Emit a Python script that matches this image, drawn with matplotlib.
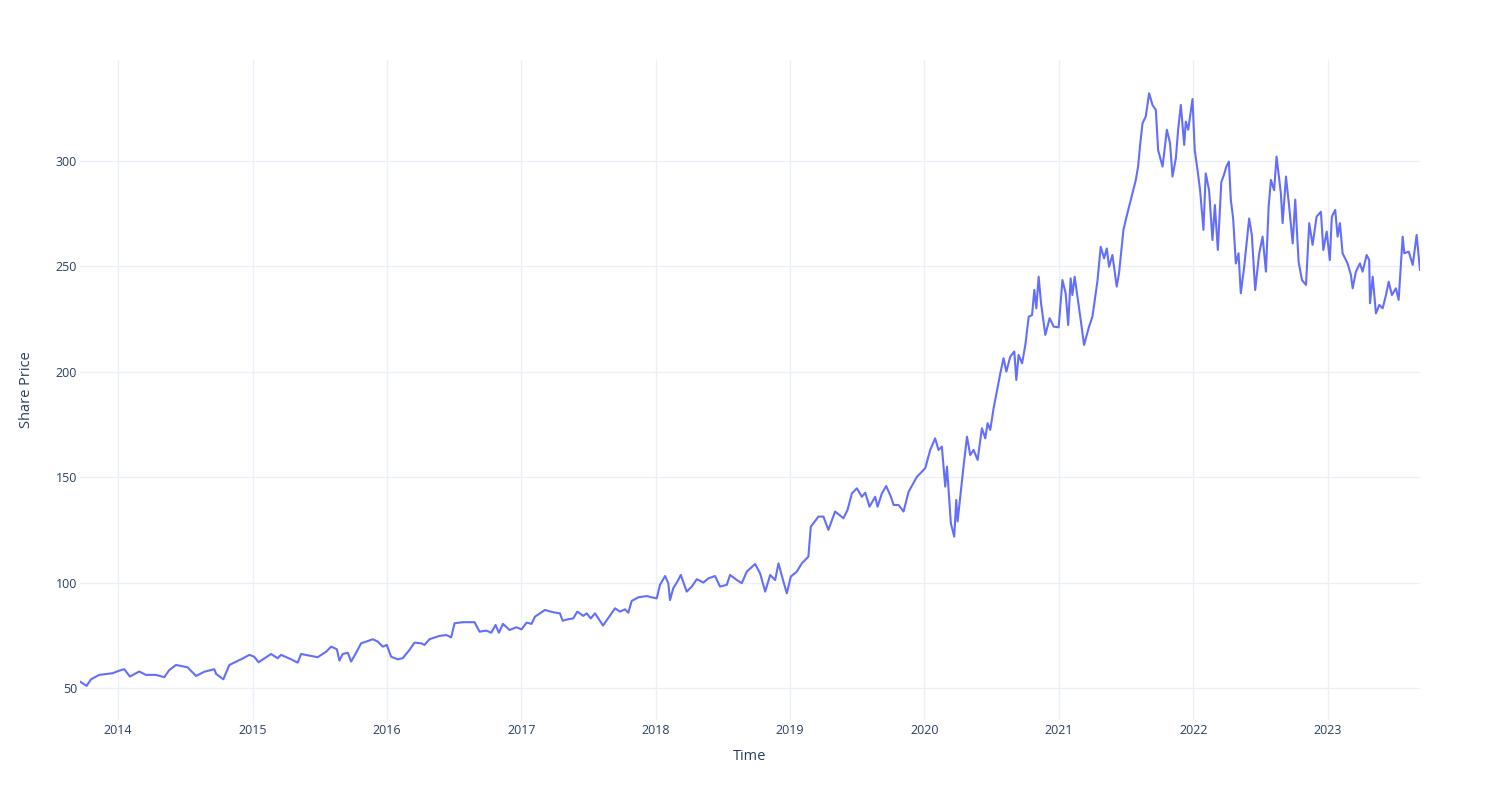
import matplotlib
matplotlib.use("Agg")
import matplotlib.pyplot as plt
import matplotlib.dates as mdates
import pandas as pd

# time as decimal year, price
years = [
    2013.715, 2013.764, 2013.797, 2013.858, 2013.958, 2014.007, 2014.045, 2014.087, 2014.156, 2014.206,
    2014.281, 2014.343, 2014.380, 2014.430, 2014.516, 2014.579, 2014.641, 2014.715, 2014.728, 2014.782,
    2014.827, 2014.914, 2014.976, 2015.013, 2015.045, 2015.138, 2015.187, 2015.212, 2015.287, 2015.336,
    2015.361, 2015.436, 2015.485, 2015.548, 2015.585, 2015.627, 2015.647, 2015.671, 2015.709, 2015.734,
    2015.771, 2015.808, 2015.846, 2015.895, 2015.932, 2015.969, 2015.999, 2016.032, 2016.081, 2016.118,
    2016.168, 2016.206, 2016.256, 2016.280, 2016.317, 2016.392, 2016.442, 2016.479, 2016.504, 2016.566,
    2016.653, 2016.690, 2016.740, 2016.777, 2016.809, 2016.834, 2016.864, 2016.914, 2016.964, 2017.001,
    2017.038, 2017.075, 2017.100, 2017.174, 2017.236, 2017.286, 2017.306, 2017.348, 2017.385, 2017.415,
    2017.460, 2017.485, 2017.515, 2017.547, 2017.607, 2017.696, 2017.733, 2017.770, 2017.795, 2017.820,
    2017.870, 2017.932, 2017.969, 2018.007, 2018.031, 2018.069, 2018.093, 2018.106, 2018.130, 2018.160,
    2018.186, 2018.230, 2018.268, 2018.305, 2018.354, 2018.391, 2018.441, 2018.478, 2018.528, 2018.553,
    2018.603, 2018.640, 2018.677, 2018.739, 2018.776, 2018.814, 2018.851, 2018.888, 2018.913, 2018.950,
    2018.975, 2019.005, 2019.050, 2019.087, 2019.136, 2019.154, 2019.211, 2019.248, 2019.285, 2019.335,
    2019.397, 2019.427, 2019.460, 2019.497, 2019.534, 2019.559, 2019.591, 2019.633, 2019.651, 2019.683,
    2019.715, 2019.750, 2019.770, 2019.807, 2019.844, 2019.882, 2019.944, 2020.006, 2020.043, 2020.080,
    2020.105, 2020.130, 2020.155, 2020.168, 2020.197, 2020.222, 2020.237, 2020.247, 2020.267, 2020.291,
    2020.317, 2020.341, 2020.366, 2020.396, 2020.428, 2020.453, 2020.470, 2020.490, 2020.515, 2020.565,
    2020.589, 2020.610, 2020.639, 2020.669, 2020.684, 2020.701, 2020.727, 2020.751, 2020.776, 2020.801,
    2020.818, 2020.833, 2020.850, 2020.868, 2020.900, 2020.932, 2020.962, 2020.999, 2021.025, 2021.049,
    2021.068, 2021.086, 2021.099, 2021.116, 2021.161, 2021.186, 2021.223, 2021.248, 2021.285, 2021.310,
    2021.335, 2021.355, 2021.372, 2021.397, 2021.429, 2021.446, 2021.464, 2021.479, 2021.496, 2021.521,
    2021.546, 2021.571, 2021.588, 2021.603, 2021.621, 2021.645, 2021.670, 2021.695, 2021.720, 2021.737,
    2021.770, 2021.802, 2021.826, 2021.844, 2021.869, 2021.886, 2021.906, 2021.931, 2021.943, 2021.961,
    2021.993, 2022.010, 2022.031, 2022.050, 2022.075, 2022.092, 2022.117, 2022.142, 2022.160, 2022.182,
    2022.208, 2022.227, 2022.245, 2022.264, 2022.279, 2022.296, 2022.316, 2022.336, 2022.353, 2022.378,
    2022.415, 2022.435, 2022.460, 2022.490, 2022.515, 2022.540, 2022.560, 2022.577, 2022.601, 2022.619,
    2022.651, 2022.664, 2022.689, 2022.713, 2022.739, 2022.758, 2022.783, 2022.808, 2022.838, 2022.862,
    2022.887, 2022.917, 2022.949, 2022.967, 2022.992, 2023.016, 2023.031, 2023.056, 2023.074, 2023.091,
    2023.111, 2023.148, 2023.173, 2023.186, 2023.210, 2023.240, 2023.260, 2023.290, 2023.309, 2023.315,
    2023.335, 2023.359, 2023.384, 2023.409, 2023.434, 2023.454, 2023.478, 2023.508, 2023.528, 2023.558,
    2023.570, 2023.603, 2023.633, 2023.662, 2023.687,
]
price = [
    53.0, 51.0, 54.1, 56.2, 57.0, 58.2, 58.9, 55.4, 57.8, 56.2,
    56.2, 55.1, 58.5, 60.9, 59.8, 55.7, 57.7, 58.9, 56.7, 54.1,
    60.9, 63.6, 65.7, 64.8, 62.2, 66.1, 64.1, 65.7, 63.6, 62.0,
    66.1, 65.2, 64.6, 67.2, 69.6, 68.4, 63.0, 66.1, 66.7, 62.5,
    66.7, 71.2, 72.0, 73.1, 72.0, 69.6, 70.4, 64.8, 63.6, 64.1,
    68.0, 71.5, 71.2, 70.4, 73.1, 74.7, 75.1, 74.0, 80.7, 81.2,
    81.2, 76.7, 77.2, 76.2, 79.9, 76.2, 80.4, 77.5, 78.8, 77.8,
    81.0, 80.4, 83.8, 87.0, 85.9, 85.4, 81.9, 82.6, 83.0, 86.2,
    84.2, 85.4, 83.0, 85.4, 79.6, 87.8, 86.2, 87.3, 85.7, 91.3,
    93.0, 93.6, 93.0, 92.5, 98.9, 103.1, 99.7, 91.7, 97.3, 100.4,
    103.6, 95.7, 98.1, 101.6, 100.0, 102.0, 103.1, 98.1, 98.9, 103.6,
    101.2, 99.7, 105.2, 108.8, 104.4, 95.7, 103.6, 101.2, 109.1, 100.4,
    94.9, 102.8, 105.2, 109.1, 112.3, 126.5, 131.3, 131.3, 125.0, 133.7,
    130.5, 134.4, 142.3, 144.7, 140.7, 142.6, 136.0, 140.7, 136.0, 142.3,
    145.8, 140.7, 136.8, 136.8, 133.7, 143.1, 150.2, 154.2, 162.9, 168.4,
    162.9, 164.5, 145.5, 155.0, 128.1, 121.8, 139.2, 129.0, 140.7, 155.0,
    169.2, 160.5, 162.9, 158.2, 173.2, 168.4, 175.6, 172.4, 182.7, 199.3,
    206.4, 200.1, 207.2, 209.6, 196.1, 208.0, 204.0, 212.7, 226.1, 226.9,
    238.8, 230.1, 245.1, 232.5, 217.5, 225.4, 221.4, 221.1, 243.5, 237.2,
    222.2, 244.3, 236.4, 245.1, 224.6, 212.7, 221.4, 226.1, 242.7, 259.3,
    253.8, 258.5, 249.8, 255.4, 240.4, 246.7, 257.8, 267.3, 272.0, 278.3,
    284.7, 291.0, 297.3, 307.6, 317.9, 321.1, 332.1, 326.6, 324.2, 305.2,
    297.3, 314.8, 308.4, 292.6, 301.3, 314.8, 326.6, 307.6, 318.7, 314.8,
    329.4, 305.2, 295.7, 286.1, 267.3, 294.1, 286.1, 262.5, 279.1, 257.8,
    290.0, 293.3, 297.3, 299.7, 281.4, 272.7, 251.4, 256.2, 237.2, 249.8,
    272.7, 264.9, 238.8, 256.2, 264.1, 247.5, 278.3, 291.0, 286.1, 302.1,
    284.7, 270.5, 292.6, 278.3, 260.9, 281.7, 252.2, 243.5, 241.2, 270.5,
    260.2, 273.6, 275.9, 257.8, 266.5, 253.0, 273.6, 276.8, 264.1, 270.5,
    256.2, 251.4, 245.9, 239.6, 247.5, 251.4, 247.5, 255.4, 253.0, 232.5,
    245.1, 227.7, 231.7, 230.1, 236.4, 242.7, 236.4, 239.6, 234.1, 264.1,
    256.2, 257.0, 250.7, 264.9, 248.3,
]
y_ticks = [50, 100, 150, 200, 250, 300]

if __name__ == "__main__":
    # decimal year -> timestamp
    dates = [pd.Timestamp(int(y), 1, 1) + pd.Timedelta(days=(y - int(y)) * 365.25) for y in years]

    text_col = "#2a3f5f"
    grid_col = "#ebf0f8"
    plt.rcParams["font.family"] = ["Open Sans", "DejaVu Sans"]

    fig = plt.figure(figsize=(15, 8), dpi=100)
    ax = fig.add_axes([80 / 1500, 80 / 800, 1340 / 1500, 660 / 800])

    ax.plot(dates, price, color="#636efa", linewidth=1.5)

    ax.set_xlim(dates[0], dates[-1])
    ax.set_ylim(34.8, 347.9)
    ax.set_yticks(y_ticks)
    ax.xaxis.set_major_locator(mdates.YearLocator())
    ax.xaxis.set_major_formatter(mdates.DateFormatter("%Y"))

    ax.grid(True, color=grid_col, linewidth=1)
    ax.set_axisbelow(True)
    for s in ax.spines.values():
        s.set_visible(False)
    ax.tick_params(axis="both", length=0, labelsize=9, labelcolor=text_col)
    ax.tick_params(axis="y", pad=2)
    ax.tick_params(axis="x", pad=3)

    fig.text(750 / 1500, 1 - 756 / 800, "Time", ha="center", va="center",
             fontsize=10.5, color=text_col)
    fig.text(27 / 1500, 1 - 390 / 800, "Share Price", ha="center", va="center",
             rotation=90, fontsize=10.5, color=text_col)

    plt.savefig("out.png", dpi=100, facecolor="white")
